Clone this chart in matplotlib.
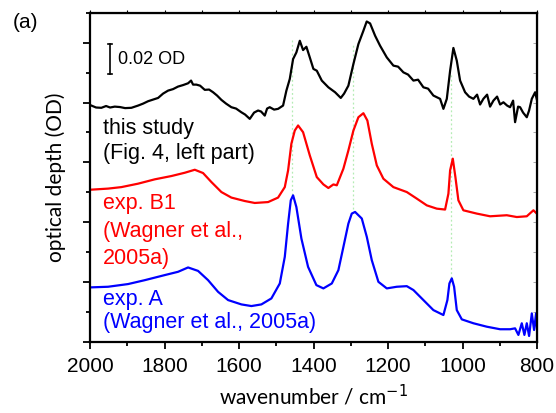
import numpy as np
import matplotlib.pyplot as plt
from matplotlib.ticker import MultipleLocator

plt.rcParams['font.family'] = ['Liberation Sans', 'DejaVu Sans']

# [data]____________________________________________________________________
# this study (black), wavenumber / cm-1 and optical depth
wn_this = [1996.5, 1983.9, 1969.7, 1957.0, 1946.3, 1933.7, 1919.5, 1906.0, 1889.1, 1871.1,
           1857.7, 1844.3, 1830.9, 1817.4, 1804.0, 1790.6, 1777.2, 1763.8, 1750.3, 1736.9,
           1728.9, 1723.5, 1714.6, 1704.7, 1692.1, 1680.5, 1669.8, 1659.1, 1647.5, 1634.9,
           1620.7, 1608.1, 1593.8, 1583.9, 1571.3, 1559.7, 1549.0, 1540.9, 1531.0, 1524.8,
           1517.6, 1506.0, 1495.3, 1481.9, 1473.0, 1463.9, 1455.0, 1446.2, 1437.0, 1428.2,
           1419.3, 1410.2, 1400.5, 1391.4, 1378.0, 1360.3, 1342.3, 1327.0, 1318.1, 1306.6,
           1293.1, 1279.7, 1266.3, 1257.4, 1248.3, 1234.9, 1221.5, 1203.5, 1185.8, 1173.1,
           1158.9, 1146.3, 1132.0, 1119.5, 1105.2, 1092.6, 1078.4, 1060.4, 1051.5, 1042.4,
           1033.5, 1024.7, 1015.6, 1006.7, 993.3, 982.6, 971.0, 961.1, 953.0, 944.2,
           934.2, 926.2, 917.3, 907.4, 899.3, 890.4, 880.5, 872.5, 864.4, 859.1,
           851.0, 845.6, 837.6, 827.7, 821.5, 814.2, 805.3, 800.0]
od_this = [0.1580, 0.1567, 0.1565, 0.1577, 0.1567, 0.1573, 0.1570, 0.1563, 0.1565, 0.1580,
           0.1593, 0.1609, 0.1620, 0.1631, 0.1660, 0.1680, 0.1690, 0.1707, 0.1717, 0.1729,
           0.1747, 0.1720, 0.1720, 0.1713, 0.1685, 0.1687, 0.1669, 0.1647, 0.1618, 0.1593,
           0.1569, 0.1560, 0.1535, 0.1520, 0.1491, 0.1533, 0.1547, 0.1540, 0.1513, 0.1560,
           0.1569, 0.1553, 0.1558, 0.1580, 0.1680, 0.1758, 0.1891, 0.1935, 0.2013, 0.1951,
           0.1973, 0.1902, 0.1825, 0.1813, 0.1747, 0.1702, 0.1669, 0.1631, 0.1660, 0.1713,
           0.1858, 0.1991, 0.2080, 0.2142, 0.2129, 0.2047, 0.1980, 0.1902, 0.1847, 0.1840,
           0.1802, 0.1787, 0.1747, 0.1753, 0.1702, 0.1693, 0.1647, 0.1625, 0.1558, 0.1625,
           0.1813, 0.1965, 0.1880, 0.1747, 0.1669, 0.1640, 0.1625, 0.1653, 0.1587, 0.1625,
           0.1653, 0.1573, 0.1613, 0.1640, 0.1587, 0.1602, 0.1580, 0.1569, 0.1613, 0.1469,
           0.1573, 0.1569, 0.1533, 0.1502, 0.1547, 0.1625, 0.1669, 0.1613]

# exp. B1 (red)
wn_b1 = [1996.5, 1951.7, 1916.0, 1871.1, 1826.3, 1781.7, 1745.8, 1718.9, 1696.7, 1674.4,
         1647.5, 1620.7, 1584.7, 1557.9, 1522.1, 1495.3, 1477.3, 1468.4, 1459.6, 1450.5,
         1441.6, 1428.2, 1410.2, 1391.4, 1373.7, 1360.3, 1346.8, 1337.7, 1320.0, 1306.6,
         1293.1, 1279.7, 1266.3, 1255.6, 1243.8, 1230.3, 1212.6, 1185.8, 1149.8, 1122.9,
         1096.1, 1069.3, 1047.0, 1038.1, 1033.5, 1026.3, 1019.3, 1011.3, 997.9, 962.0,
         926.2, 881.4, 854.5, 827.7, 809.9, 800.8]
od_b1 = [0.1018, 0.1025, 0.1035, 0.1058, 0.1087, 0.1109, 0.1131, 0.1151, 0.1129, 0.1069,
         0.1002, 0.0965, 0.0942, 0.0929, 0.0935, 0.0965, 0.1035, 0.1147, 0.1325, 0.1413,
         0.1447, 0.1402, 0.1247, 0.1102, 0.1053, 0.1029, 0.1053, 0.1047, 0.1158, 0.1280,
         0.1413, 0.1502, 0.1529, 0.1480, 0.1325, 0.1180, 0.1091, 0.1035, 0.1002, 0.0958,
         0.0913, 0.0891, 0.0885, 0.0991, 0.1147, 0.1225, 0.1102, 0.0947, 0.0880, 0.0858,
         0.0840, 0.0847, 0.0835, 0.0840, 0.0880, 0.0858]

# exp. A (blue)
wn_a = [1996.5, 1951.7, 1898.0, 1853.2, 1799.5, 1763.8, 1736.9, 1710.1, 1683.2, 1656.4,
        1629.5, 1593.8, 1566.9, 1540.1, 1513.3, 1490.7, 1477.3, 1468.4, 1461.2, 1455.0,
        1446.2, 1432.7, 1414.8, 1392.5, 1373.7, 1351.1, 1333.4, 1320.0, 1306.6, 1297.5,
        1288.6, 1270.6, 1257.1, 1243.8, 1226.0, 1203.5, 1176.7, 1149.8, 1132.0, 1105.2,
        1078.4, 1051.5, 1040.8, 1035.4, 1029.0, 1022.8, 1015.6, 1002.1, 971.0, 935.0,
        899.3, 872.5, 859.1, 850.2, 841.1, 834.1, 827.7, 821.5, 814.2, 808.1,
        802.7, 800.0]
od_a = [0.0365, 0.0369, 0.0387, 0.0413, 0.0447, 0.0469, 0.0498, 0.0475, 0.0413, 0.0335,
        0.0280, 0.0251, 0.0240, 0.0251, 0.0291, 0.0391, 0.0569, 0.0791, 0.0947, 0.0980,
        0.0902, 0.0691, 0.0502, 0.0380, 0.0358, 0.0391, 0.0480, 0.0635, 0.0791, 0.0858,
        0.0869, 0.0825, 0.0702, 0.0547, 0.0402, 0.0358, 0.0369, 0.0373, 0.0347, 0.0280,
        0.0213, 0.0180, 0.0280, 0.0391, 0.0425, 0.0369, 0.0213, 0.0151, 0.0125, 0.0102,
        0.0085, 0.0085, 0.0091, 0.0047, 0.0125, 0.0047, 0.0125, 0.0040, 0.0191, 0.0080,
        0.0191, 0.0080]

# green guide lines: position, lower and upper end
guide_wn = [1458, 1293, 1030]
guide_lo = [0.098, 0.089, 0.043]
guide_hi = [0.203, 0.200, 0.179]

labels = [("this study", 0.1427, 'k'), ("(Fig. 4, left part)", 0.1260, 'k'),
          ("exp. B1", 0.0927, 'r'), ("(Wagner et al.,", 0.0740, 'r'), ("2005a)", 0.0560, 'r'),
          ("exp. A", 0.0287, 'b'), ("(Wagner et al., 2005a)", 0.0127, 'b')]

# [figure]__________________________________________________________________
fig = plt.figure(figsize=(5.56, 4.13), dpi=100)
ax = fig.add_axes([0.162, 0.172, 0.804, 0.797])

for w, lo, hi in zip(guide_wn, guide_lo, guide_hi):
    ax.plot([w, w], [lo, hi], color='#b4ecb4', lw=0.9, ls=(0, (1.5, 2)), zorder=1)

ax.plot(wn_this, od_this, 'k', lw=1.6)
ax.plot(wn_b1, od_b1, color='#ff0000', lw=1.6)
ax.plot(wn_a, od_a, color='#0000ff', lw=1.6)

for txt, y, c in labels:
    ax.text(1965, y, txt, color=c, fontsize=15.5, va='center', ha='left')

# scale bar
ax.plot([1946, 1946], [0.1793, 0.1993], 'k', lw=1.2)
ax.plot([1941, 1951], [0.1793, 0.1793], 'k', lw=1.2)
ax.plot([1941, 1951], [0.1993, 0.1993], 'k', lw=1.2)
ax.text(1926, 0.1885, "0.02 OD", fontsize=13, va='center', ha='left')

ax.set_xlim(2000, 800)
ax.set_ylim(0, 0.22)
ax.xaxis.set_major_locator(MultipleLocator(200))
ax.xaxis.set_minor_locator(MultipleLocator(100))
ax.yaxis.set_major_locator(MultipleLocator(0.04))
ax.yaxis.set_minor_locator(MultipleLocator(0.02))
ax.set_yticklabels([])
ax.tick_params(which='major', direction='out', length=5, width=1.3, labelsize=15, pad=6)
ax.tick_params(which='minor', direction='out', length=3, width=1.3)
for s in ax.spines.values():
    s.set_linewidth(1.6)

# short outward ticks on top, short inward ticks on the right
top = ax.secondary_xaxis('top')
top.xaxis.set_major_locator(MultipleLocator(100))
top.tick_params(direction='out', length=2, width=0.8, labeltop=False)
right = ax.secondary_yaxis('right')
right.yaxis.set_major_locator(MultipleLocator(0.02))
right.tick_params(direction='in', length=3, width=0.6, color='#999999', labelright=False)

ax.set_xlabel("wavenumber / cm$^{-1}$", fontsize=15, family=['Lato', 'DejaVu Sans'], labelpad=5)
ax.set_ylabel("optical depth (OD)", fontsize=15, family=['Lato', 'DejaVu Sans'], labelpad=6)

fig.text(0.045, 0.945, "(a)", fontsize=15, va='center', ha='center')

fig.savefig('out.png', dpi=100)
